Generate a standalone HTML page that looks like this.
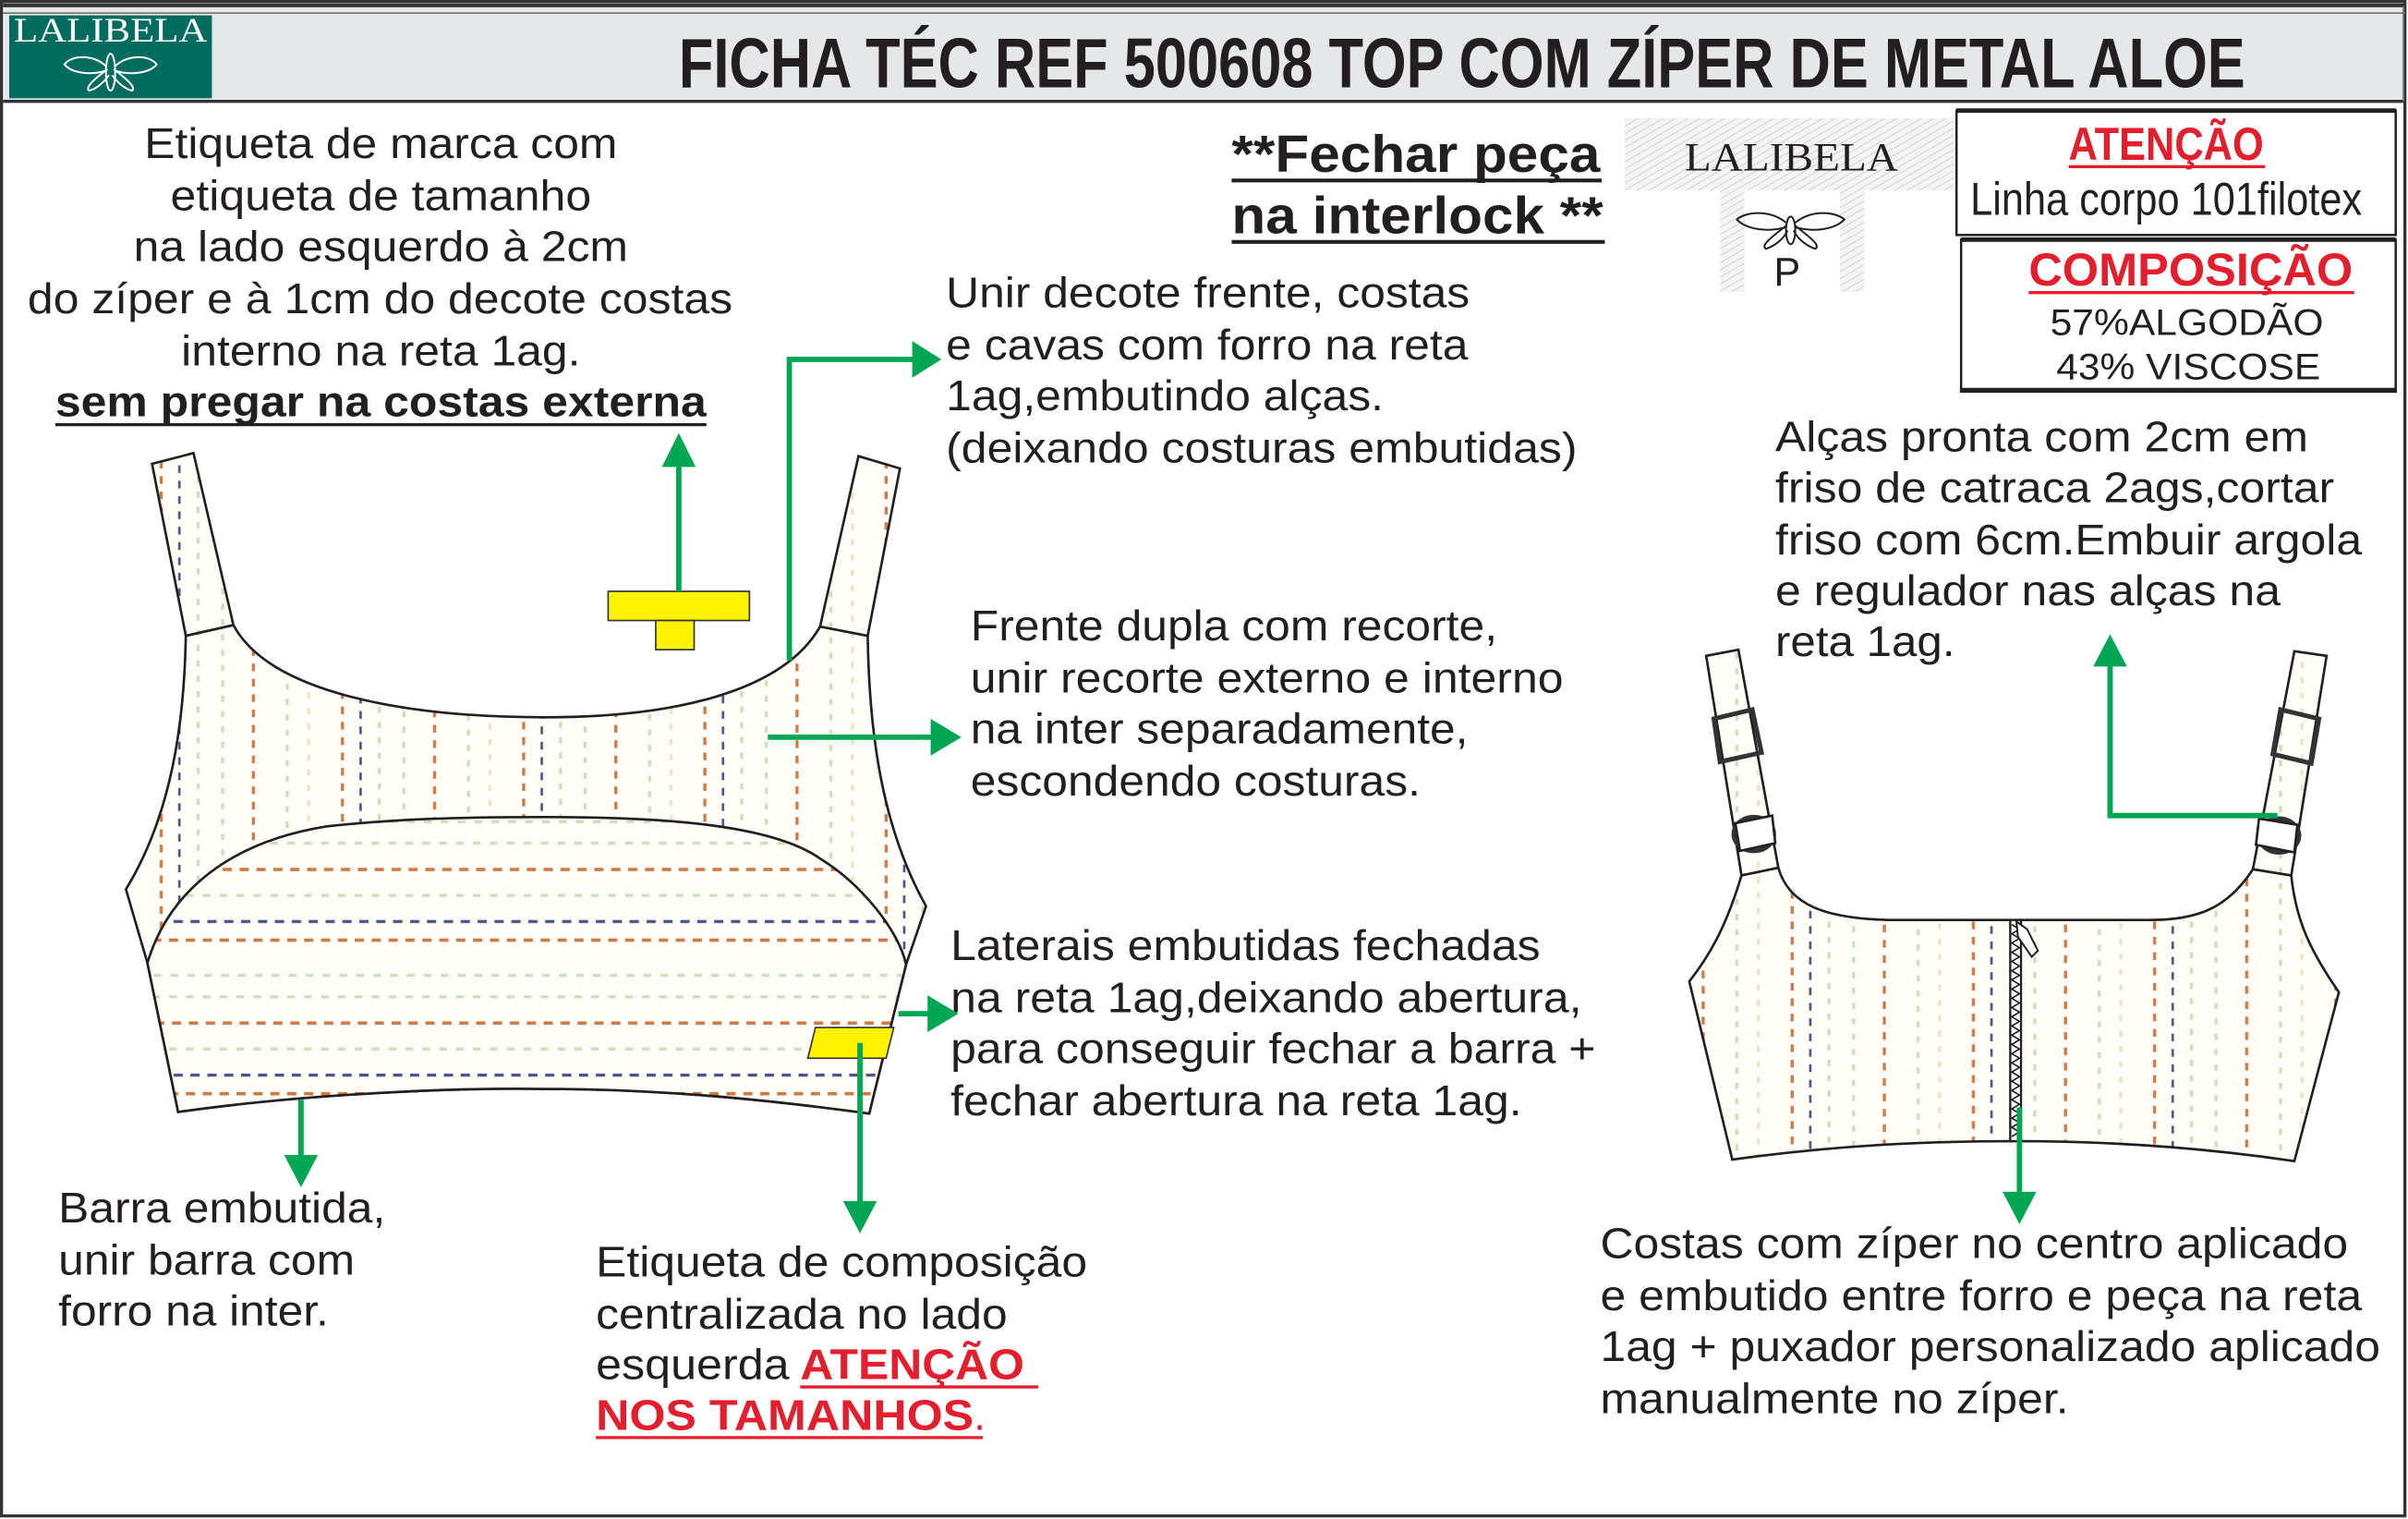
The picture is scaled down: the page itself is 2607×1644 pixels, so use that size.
<!DOCTYPE html>
<html><head><meta charset="utf-8">
<style>
html,body{margin:0;padding:0;background:#fff;}
svg{display:block;}
text{font-family:"Liberation Sans",Arial,sans-serif;fill:#231f20;}
.t{font-size:28px;}
.g{fill:none;stroke:#00a651;stroke-width:3.5;}
.ah{fill:#00a651;}
</style></head>
<body>
<svg width="2607" height="1644" viewBox="0 0 1568 989" preserveAspectRatio="none" xmlns="http://www.w3.org/2000/svg">
<defs>
 <pattern id="vs" patternUnits="userSpaceOnUse" width="118" height="10" x="100" y="0">
  <rect width="118" height="10" fill="#fffef8"/>
  <rect x="4" y="0" width="2" height="5" fill="#d07a45"/>
  <rect x="16" y="3" width="1.6" height="5" fill="#4a5585"/>
  <rect x="28" y="0" width="2" height="4" fill="#c8e2b4"/>
  <rect x="44" y="3" width="2" height="4" fill="#c8e2b4"/>
  <rect x="64" y="2" width="2" height="5" fill="#d07a45"/>
  <rect x="86" y="5" width="2" height="4" fill="#c8e2b4"/>
  <rect x="100" y="1" width="2" height="4" fill="#f2e2c0"/>
 </pattern>
 <pattern id="hs" patternUnits="userSpaceOnUse" width="11" height="100" x="0" y="548">
  <rect width="11" height="100" fill="#fffef8"/>
  <rect x="0" y="0" width="5" height="2" fill="#c8e2b4"/>
  <rect x="2" y="17" width="6" height="2.2" fill="#d07a45"/>
  <rect x="0" y="34" width="5" height="2" fill="#c8e2b4"/>
  <rect x="3" y="51" width="6" height="2" fill="#4a5585"/>
  <rect x="0" y="63" width="6" height="2.2" fill="#d07a45"/>
  <rect x="1" y="86" width="5" height="2" fill="#c8e2b4"/>
 </pattern>
 <pattern id="hatch" patternUnits="userSpaceOnUse" width="4" height="4" patternTransform="rotate(60)">
  <rect width="4" height="4" fill="#f4f4f4"/>
  <line x1="0" y1="0" x2="0" y2="4" stroke="#cccccc" stroke-width="1"/>
 </pattern>
</defs>

<rect x="1" y="1" width="1565" height="986" fill="#fff" stroke="#333" stroke-width="2"/>
<rect x="3" y="4" width="1562" height="62" fill="#e6e7e8"/>
<line x1="2" y1="3.5" x2="1566" y2="3.5" stroke="#333" stroke-width="2.5"/>
<line x1="2" y1="8.5" x2="1566" y2="8.5" stroke="#777" stroke-width="1"/>
<line x1="2" y1="66" x2="1566" y2="66" stroke="#333" stroke-width="2"/>
<line x1="1565" y1="4" x2="1565" y2="66" stroke="#777" stroke-width="1"/>
<rect x="6" y="10" width="132" height="54" fill="#006b5f"/>
<text x="9" y="27" font-size="22" style="fill:#fff;font-family:'Liberation Serif',serif" textLength="126" lengthAdjust="spacingAndGlyphs">LALIBELA</text>
<g fill="none" stroke="#fff" stroke-width="1.2">
 <ellipse cx="72" cy="47" rx="3" ry="12"/>
 <path d="M69,43 C60,35 46,36 42,42 C47,48 60,49 69,46"/>
 <path d="M75,43 C84,35 98,36 102,42 C97,48 84,49 75,46"/>
 <path d="M70,45 C62,51 55,57 58,59 C63,58 68,53 71,49"/>
 <path d="M74,45 C82,51 89,57 86,59 C81,58 76,53 73,49"/>
</g>
<text x="442" y="57" font-size="46" font-weight="bold" textLength="1020" lengthAdjust="spacingAndGlyphs">FICHA TÉC REF 500608 TOP COM ZÍPER DE METAL ALOE</text>

<text x="94" y="103" class="t" textLength="308" lengthAdjust="spacingAndGlyphs">Etiqueta de marca com</text>
<text x="111" y="137" class="t" textLength="274" lengthAdjust="spacingAndGlyphs">etiqueta de tamanho</text>
<text x="87" y="170" class="t" textLength="322" lengthAdjust="spacingAndGlyphs">na lado esquerdo à 2cm</text>
<text x="18" y="204" class="t" textLength="459" lengthAdjust="spacingAndGlyphs">do zíper e à 1cm do decote costas</text>
<text x="118" y="238" class="t" textLength="260" lengthAdjust="spacingAndGlyphs">interno na reta 1ag.</text>
<text x="36" y="271" class="t" font-weight="bold" textLength="424" lengthAdjust="spacingAndGlyphs">sem pregar na costas externa</text>
<line x1="36" y1="276.5" x2="460" y2="276.5" stroke="#231f20" stroke-width="2"/>

<text x="802" y="112" font-size="34" font-weight="bold" textLength="240" lengthAdjust="spacingAndGlyphs">**Fechar peça</text>
<line x1="802" y1="117.5" x2="1043" y2="117.5" stroke="#231f20" stroke-width="2.5"/>
<text x="802" y="152" font-size="34" font-weight="bold" textLength="242" lengthAdjust="spacingAndGlyphs">na interlock **</text>
<line x1="802" y1="157.5" x2="1045" y2="157.5" stroke="#231f20" stroke-width="2.5"/>

<rect x="1058" y="77" width="214" height="47" fill="url(#hatch)"/>
<text x="1097" y="111" font-size="26" style="font-family:'Liberation Serif',serif" textLength="139" lengthAdjust="spacingAndGlyphs">LALIBELA</text>
<rect x="1120" y="124" width="94" height="66" fill="url(#hatch)"/>
<rect x="1136" y="124" width="62" height="66" fill="#fff"/>
<g fill="none" stroke="#231f20" stroke-width="1.2">
 <ellipse cx="1166" cy="150" rx="3" ry="9"/>
 <path d="M1163,145 C1152,136 1136,138 1131,143 C1138,150 1152,151 1163,148"/>
 <path d="M1169,145 C1180,136 1196,138 1201,143 C1194,150 1180,151 1169,148"/>
 <path d="M1163,147 C1154,154 1146,160 1150,162 C1156,160 1162,155 1164,150"/>
 <path d="M1169,147 C1178,154 1186,160 1182,162 C1176,160 1170,155 1168,150"/>
</g>
<text x="1155" y="186" font-size="26">P</text>

<rect x="1274" y="72" width="286" height="81" fill="#fff" stroke="#231f20" stroke-width="1.5"/>
<line x1="1274" y1="72" x2="1560" y2="72" stroke="#231f20" stroke-width="3"/>
<text x="1347" y="104" font-size="30" font-weight="bold" style="fill:#e31e2d" textLength="127" lengthAdjust="spacingAndGlyphs">ATENÇÃO</text>
<line x1="1347" y1="108.5" x2="1475" y2="108.5" stroke="#e31e2d" stroke-width="2"/>
<text x="1283" y="140" font-size="30" textLength="255" lengthAdjust="spacingAndGlyphs">Linha corpo 101filotex</text>
<rect x="1277" y="156" width="283" height="99" fill="#fff" stroke="#231f20" stroke-width="1.5"/>
<line x1="1277" y1="156" x2="1560" y2="156" stroke="#231f20" stroke-width="3"/>
<line x1="1277" y1="254" x2="1560" y2="254" stroke="#231f20" stroke-width="3"/>
<text x="1321" y="186" font-size="30" font-weight="bold" style="fill:#e31e2d" textLength="211" lengthAdjust="spacingAndGlyphs">COMPOSIÇÃO</text>
<line x1="1321" y1="190.5" x2="1533" y2="190.5" stroke="#e31e2d" stroke-width="2"/>
<text x="1335" y="218" font-size="24" textLength="178" lengthAdjust="spacingAndGlyphs">57%ALGODÃO</text>
<text x="1339" y="247" font-size="24" textLength="172" lengthAdjust="spacingAndGlyphs">43% VISCOSE</text>

<text x="616" y="200" class="t" textLength="341" lengthAdjust="spacingAndGlyphs">Unir decote frente, costas</text>
<text x="616" y="234" class="t" textLength="340" lengthAdjust="spacingAndGlyphs">e cavas com forro na reta</text>
<text x="616" y="267" class="t" textLength="285" lengthAdjust="spacingAndGlyphs">1ag,embutindo alças.</text>
<text x="616" y="301" class="t" textLength="411" lengthAdjust="spacingAndGlyphs">(deixando costuras embutidas)</text>
<text x="632" y="417" class="t" textLength="343" lengthAdjust="spacingAndGlyphs">Frente dupla com recorte,</text>
<text x="632" y="451" class="t" textLength="386" lengthAdjust="spacingAndGlyphs">unir recorte externo e interno</text>
<text x="632" y="484" class="t" textLength="324" lengthAdjust="spacingAndGlyphs">na inter separadamente,</text>
<text x="632" y="518" class="t" textLength="293" lengthAdjust="spacingAndGlyphs">escondendo costuras.</text>
<text x="619" y="625" class="t" textLength="384" lengthAdjust="spacingAndGlyphs">Laterais embutidas fechadas</text>
<text x="619" y="659" class="t" textLength="411" lengthAdjust="spacingAndGlyphs">na reta 1ag,deixando abertura,</text>
<text x="619" y="692" class="t" textLength="420" lengthAdjust="spacingAndGlyphs">para conseguir fechar a barra +</text>
<text x="619" y="726" class="t" textLength="372" lengthAdjust="spacingAndGlyphs">fechar abertura na reta 1ag.</text>
<text x="1156" y="294" class="t" textLength="347" lengthAdjust="spacingAndGlyphs">Alças pronta com 2cm em</text>
<text x="1156" y="327" class="t" textLength="364" lengthAdjust="spacingAndGlyphs">friso de catraca 2ags,cortar</text>
<text x="1156" y="361" class="t" textLength="382" lengthAdjust="spacingAndGlyphs">friso com 6cm.Embuir argola</text>
<text x="1156" y="394" class="t" textLength="329" lengthAdjust="spacingAndGlyphs">e regulador nas alças na</text>
<text x="1156" y="427" class="t" textLength="117" lengthAdjust="spacingAndGlyphs">reta 1ag.</text>
<text x="38" y="796" class="t" textLength="213" lengthAdjust="spacingAndGlyphs">Barra embutida,</text>
<text x="38" y="830" class="t" textLength="193" lengthAdjust="spacingAndGlyphs">unir barra com</text>
<text x="38" y="863" class="t" textLength="176" lengthAdjust="spacingAndGlyphs">forro na inter.</text>
<text x="388" y="831" class="t" textLength="320" lengthAdjust="spacingAndGlyphs">Etiqueta de composição</text>
<text x="388" y="865" class="t" textLength="268" lengthAdjust="spacingAndGlyphs">centralizada no lado</text>
<text x="388" y="898" class="t" textLength="126" lengthAdjust="spacingAndGlyphs">esquerda</text>
<text x="521" y="898" class="t" font-weight="bold" style="fill:#e31e2d" textLength="146" lengthAdjust="spacingAndGlyphs">ATENÇÃO</text>
<line x1="521" y1="903" x2="676" y2="903" stroke="#e31e2d" stroke-width="2"/>
<text x="388" y="931" class="t" font-weight="bold" style="fill:#e31e2d" textLength="246" lengthAdjust="spacingAndGlyphs">NOS TAMANHOS</text>
<text x="634" y="931" class="t" style="fill:#e31e2d">.</text>
<line x1="388" y1="936" x2="640" y2="936" stroke="#e31e2d" stroke-width="2"/>
<text x="1042" y="819" class="t" textLength="487" lengthAdjust="spacingAndGlyphs">Costas com zíper no centro aplicado</text>
<text x="1042" y="853" class="t" textLength="496" lengthAdjust="spacingAndGlyphs">e embutido entre forro e peça na reta</text>
<text x="1042" y="886" class="t" textLength="508" lengthAdjust="spacingAndGlyphs">1ag + puxador personalizado aplicado</text>
<text x="1042" y="920" class="t" textLength="305" lengthAdjust="spacingAndGlyphs">manualmente no zíper.</text>

<!-- FRONT -->
<polygon points="99,302 126,295 152,407 121,414" fill="url(#vs)" stroke="#231f20" stroke-width="1.6"/>
<polygon points="559,297 586,305 565,414 534,408" fill="url(#vs)" stroke="#231f20" stroke-width="1.6"/>
<path d="M121,414 C120,470 112,530 82,579 L96,627 L116,724 C200,712 300,708 355,709 C430,709 500,716 566,725 L590,628 L603,590 C575,540 566,480 565,414 L534,408 C510,450 440,467 355,467 C260,467 175,450 152,407 Z" fill="url(#vs)" stroke="#231f20" stroke-width="1.6"/>
<path d="M96,627 C110,580 150,548 213,538 C260,533 300,532 355,532 C420,532 500,535 534,559 C560,575 585,605 590,628 L566,725 C500,716 430,709 355,709 C300,708 200,712 116,724 Z" fill="url(#hs)" stroke="#231f20" stroke-width="1.6"/>
<rect x="396" y="385" width="92" height="19" fill="#fff200" stroke="#333" stroke-width="1"/>
<rect x="427" y="404" width="25" height="19" fill="#fff200" stroke="#333" stroke-width="1"/>
<polygon points="531,669 582,669 577,689 526,689" fill="#fff200" stroke="#333" stroke-width="1"/>

<!-- BACK -->
<polygon points="1111,427 1132,423 1158,565 1134,570" fill="url(#vs)" stroke="#231f20" stroke-width="1.6"/>
<polygon points="1494,424 1515,427 1492,570 1467,566" fill="url(#vs)" stroke="#231f20" stroke-width="1.6"/>
<polygon points="1116,468 1141,462 1147,490 1120,496" fill="none" stroke="#333" stroke-width="3"/>
<polygon points="1485,462 1510,468 1505,497 1480,491" fill="none" stroke="#333" stroke-width="3"/>
<ellipse cx="1142" cy="543" rx="13" ry="11" fill="none" stroke="#333" stroke-width="3"/>
<polygon points="1130,536 1154,531 1156,549 1133,554" fill="#fff" stroke="#231f20" stroke-width="1.6"/>
<ellipse cx="1484" cy="544" rx="13" ry="11" fill="none" stroke="#333" stroke-width="3"/>
<polygon points="1471,533 1496,537 1494,555 1469,550" fill="#fff" stroke="#231f20" stroke-width="1.6"/>
<path d="M1134,570 C1125,600 1115,620 1100,639 L1128,755 C1200,745 1260,743 1313,743 C1380,743 1440,748 1494,756 L1523,646 C1505,620 1495,600 1492,570 L1467,566 C1450,592 1430,599 1400,599 L1230,599 C1190,598 1165,590 1158,565 Z" fill="url(#vs)" stroke="#231f20" stroke-width="1.6"/>
<rect x="1309" y="599" width="7" height="144" fill="#fff" stroke="#231f20" stroke-width="1.4"/>
<path d="M1310,602 l5,3 l-5,3 l5,3 l-5,3 l5,3 l-5,3 l5,3 l-5,3 l5,3 l-5,3 l5,3 l-5,3 l5,3 l-5,3 l5,3 l-5,3 l5,3 l-5,3 l5,3 l-5,3 l5,3 l-5,3 l5,3 l-5,3 l5,3 l-5,3 l5,3 l-5,3 l5,3 l-5,3 l5,3 l-5,3 l5,3 l-5,3 l5,3 l-5,3 l5,3 l-5,3 l5,3 l-5,3 l5,3 l-5,3 l5,3 l-5,3 l5,3 l-5,3" fill="none" stroke="#231f20" stroke-width="1"/>
<polygon points="1313,600 1320,605 1327,619 1323,623 1314,610" fill="#fff" stroke="#231f20" stroke-width="1.2"/>

<!-- ARROWS -->
<line class="g" x1="442" y1="385" x2="442" y2="300"/>
<polygon class="ah" points="442,282 431,304 453,304"/>
<polyline class="g" points="514,430 514,234 596,234"/>
<polygon class="ah" points="613,234 594,222 594,246"/>
<line class="g" x1="500" y1="480" x2="608" y2="480"/>
<polygon class="ah" points="626,480 606,468 606,492"/>
<line class="g" x1="585" y1="660" x2="605" y2="660"/>
<polygon class="ah" points="624,660 604,648 604,672"/>
<line class="g" x1="196" y1="716" x2="196" y2="754"/>
<polygon class="ah" points="196,773 185,752 207,752"/>
<line class="g" x1="560" y1="679" x2="560" y2="784"/>
<polygon class="ah" points="560,803 549,782 571,782"/>
<polyline class="g" points="1483,531 1374,531 1374,432"/>
<polygon class="ah" points="1374,413 1363,434 1385,434"/>
<line class="g" x1="1315" y1="721" x2="1315" y2="778"/>
<polygon class="ah" points="1315,797 1304,776 1326,776"/>
</svg>
</body></html>
